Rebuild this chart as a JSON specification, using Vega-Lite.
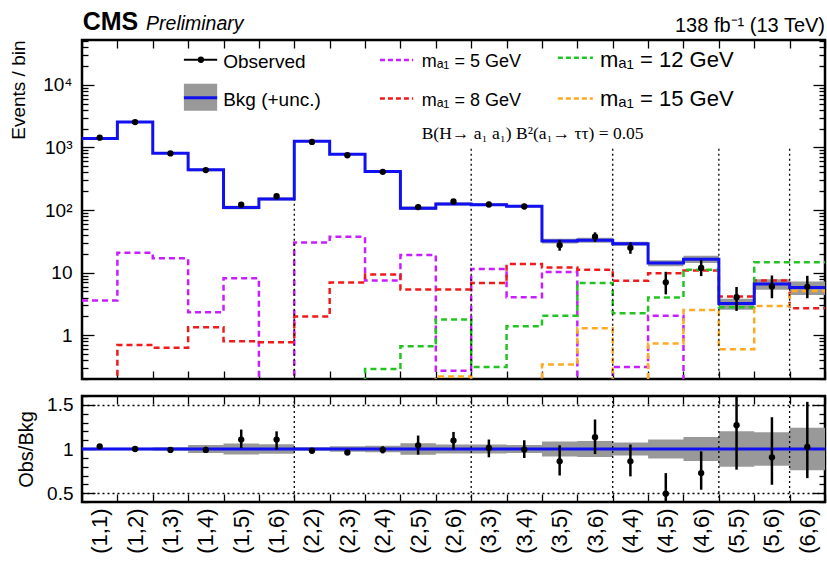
{
"$schema": "https://vega.github.io/schema/vega-lite/v6.json",
"background": "white",
"padding": {"left": 8, "top": 8, "right": 2, "bottom": 0},
"spacing": -6,
"config": {
  "font": "Liberation Sans",
  "view": {"stroke": "black", "strokeWidth": 2.5},
  "axis": {"domain": false, "grid": false, "tickColor": "black", "tickWidth": 1.3, "labelColor": "black", "titleColor": "black", "labelFontSize": 19, "titleFontSize": 19, "titleFontWeight": "normal", "labelOverlap": false, "labelFlush": false, "labelBound": false},
  "text": {"color": "black"}
},
"datasets": {
  "bins": [
    {"bin":"(1,1)","lo":0,"hi":1,"bkg":1390,"bkgLo":1369,"bkgHi":1411,"obs":1432,"obsLo":1397,"obsHi":1467,"s5":3.6,"s8":0.01,"s12":0.01,"s15":0.01,"ratio":1.03,"rLo":1.005,"rHi":1.055,"uLo":0.985,"uHi":1.015},
    {"bin":"(1,2)","lo":1,"hi":2,"bkg":2540,"bkgLo":2502,"bkgHi":2578,"obs":2540,"obsLo":2490,"obsHi":2590,"s5":20.7,"s8":0.70,"s12":0.01,"s15":0.01,"ratio":1.0,"rLo":0.985,"rHi":1.015,"uLo":0.985,"uHi":1.015},
    {"bin":"(1,3)","lo":2,"hi":3,"bkg":810,"bkgLo":794,"bkgHi":826,"obs":802,"obsLo":782,"obsHi":822,"s5":16.9,"s8":0.63,"s12":0.01,"s15":0.01,"ratio":0.99,"rLo":0.965,"rHi":1.015,"uLo":0.98,"uHi":1.02},
    {"bin":"(1,4)","lo":3,"hi":4,"bkg":438,"bkgLo":418,"bkgHi":458,"obs":434,"obsLo":418,"obsHi":451,"s5":2.33,"s8":1.34,"s12":0.01,"s15":0.01,"ratio":0.99,"rLo":0.955,"rHi":1.025,"uLo":0.955,"uHi":1.045},
    {"bin":"(1,5)","lo":4,"hi":5,"bkg":110,"bkgLo":103.2,"bkgHi":116.8,"obs":121.8,"obsLo":110,"obsHi":134,"s5":8.1,"s8":0.80,"s12":0.01,"s15":0.01,"ratio":1.107,"rLo":1.01,"rHi":1.22,"uLo":0.938,"uHi":1.062},
    {"bin":"(1,6)","lo":5,"hi":6,"bkg":150,"bkgLo":142,"bkgHi":158,"obs":166,"obsLo":149,"obsHi":179,"s5":0.01,"s8":0.77,"s12":0.01,"s15":0.01,"ratio":1.107,"rLo":0.993,"rHi":1.2,"uLo":0.947,"uHi":1.053},
    {"bin":"(2,2)","lo":6,"hi":7,"bkg":1250,"bkgLo":1225,"bkgHi":1275,"obs":1225,"obsLo":1200,"obsHi":1250,"s5":30.4,"s8":1.99,"s12":0.01,"s15":0.01,"ratio":0.98,"rLo":0.96,"rHi":1.0,"uLo":0.98,"uHi":1.02},
    {"bin":"(2,3)","lo":7,"hi":8,"bkg":780,"bkgLo":757,"bkgHi":803,"obs":749,"obsLo":731,"obsHi":767,"s5":37.4,"s8":6.97,"s12":0.01,"s15":0.01,"ratio":0.96,"rLo":0.94,"rHi":0.985,"uLo":0.97,"uHi":1.03},
    {"bin":"(2,4)","lo":8,"hi":9,"bkg":412,"bkgLo":396,"bkgHi":428,"obs":408,"obsLo":391,"obsHi":424,"s5":7.5,"s8":9.35,"s12":0.29,"s15":0.01,"ratio":0.99,"rLo":0.95,"rHi":1.03,"uLo":0.962,"uHi":1.038},
    {"bin":"(2,5)","lo":9,"hi":10,"bkg":107,"bkgLo":99.9,"bkgHi":114.1,"obs":111.5,"obsLo":100,"obsHi":123,"s5":19.1,"s8":5.4,"s12":0.67,"s15":0.01,"ratio":1.042,"rLo":0.936,"rHi":1.152,"uLo":0.934,"uHi":1.066},
    {"bin":"(2,6)","lo":10,"hi":11,"bkg":125,"bkgLo":118.6,"bkgHi":131.4,"obs":137,"obsLo":124,"obsHi":149,"s5":0.27,"s8":5.4,"s12":1.78,"s15":0.22,"ratio":1.095,"rLo":0.993,"rHi":1.193,"uLo":0.949,"uHi":1.051},
    {"bin":"(3,3)","lo":11,"hi":12,"bkg":122,"bkgLo":115.9,"bkgHi":128.1,"obs":123,"obsLo":110.5,"obsHi":135,"s5":11.4,"s8":6.8,"s12":0.31,"s15":0.01,"ratio":1.011,"rLo":0.906,"rHi":1.107,"uLo":0.95,"uHi":1.05},
    {"bin":"(3,4)","lo":12,"hi":13,"bkg":115,"bkgLo":109.8,"bkgHi":120.2,"obs":114,"obsLo":103,"obsHi":126,"s5":4.06,"s8":13.7,"s12":1.39,"s15":0.01,"ratio":0.993,"rLo":0.898,"rHi":1.099,"uLo":0.955,"uHi":1.045},
    {"bin":"(3,5)","lo":13,"hi":14,"bkg":32,"bkgLo":29.3,"bkgHi":34.7,"obs":27.5,"obsLo":22.4,"obsHi":33.4,"s5":10.2,"s8":12.1,"s12":2.04,"s15":0.34,"ratio":0.86,"rLo":0.70,"rHi":1.042,"uLo":0.915,"uHi":1.085},
    {"bin":"(3,6)","lo":14,"hi":15,"bkg":33,"bkgLo":30.0,"bkgHi":36.0,"obs":37.4,"obsLo":31,"obsHi":44,"s5":0.01,"s8":11.1,"s12":6.8,"s15":1.29,"ratio":1.133,"rLo":0.943,"rHi":1.334,"uLo":0.91,"uHi":1.09},
    {"bin":"(4,4)","lo":15,"hi":16,"bkg":29,"bkgLo":26.9,"bkgHi":31.1,"obs":24.9,"obsLo":20,"obsHi":30.5,"s5":0.31,"s8":7.4,"s12":2.25,"s15":0.01,"ratio":0.86,"rLo":0.69,"rHi":1.05,"uLo":0.926,"uHi":1.074},
    {"bin":"(4,5)","lo":16,"hi":17,"bkg":14.2,"bkgLo":12.7,"bkgHi":15.7,"obs":7.0,"obsLo":4.5,"obsHi":10.3,"s5":2.04,"s8":9.8,"s12":4.0,"s15":0.74,"ratio":0.493,"rLo":0.25,"rHi":0.727,"uLo":0.892,"uHi":1.108},
    {"bin":"(4,6)","lo":17,"hi":18,"bkg":16.4,"bkgLo":14.2,"bkgHi":18.6,"obs":11.9,"obsLo":8.8,"obsHi":16,"s5":0.01,"s8":10.8,"s12":11.1,"s15":2.54,"ratio":0.727,"rLo":0.539,"rHi":0.974,"uLo":0.864,"uHi":1.136},
    {"bin":"(5,5)","lo":18,"hi":19,"bkg":3.2,"bkgLo":2.56,"bkgHi":3.84,"obs":4.06,"obsLo":2.45,"obsHi":5.9,"s5":0.01,"s8":4.16,"s12":2.8,"s15":0.60,"ratio":1.27,"rLo":0.766,"rHi":1.85,"uLo":0.8,"uHi":1.2},
    {"bin":"(5,6)","lo":19,"hi":20,"bkg":6.6,"bkgLo":5.35,"bkgHi":7.85,"obs":6.0,"obsLo":3.9,"obsHi":9.0,"s5":0.01,"s8":7.5,"s12":14.6,"s15":2.94,"ratio":0.906,"rLo":0.595,"rHi":1.36,"uLo":0.81,"uHi":1.19},
    {"bin":"(6,6)","lo":20,"hi":21,"bkg":5.8,"bkgLo":4.41,"bkgHi":7.19,"obs":5.93,"obsLo":3.9,"obsHi":8.9,"s5":0.01,"s8":2.7,"s12":14.6,"s15":5.1,"ratio":1.023,"rLo":0.67,"rHi":1.534,"uLo":0.76,"uHi":1.24}
  ],
  "seps": [{"edge":6},{"edge":11},{"edge":15},{"edge":18},{"edge":20}]
},
"vconcat": [
{
  "width": 743, "height": 339,
  "data": {"name": "bins"},
  "resolve": {"axis": {"x": "independent", "y": "independent"}},
  "layer": [
    {
      "transform": [{"fold": ["lo", "hi"], "as": ["edge", "xe"]}],
      "mark": {"type": "area", "color": "#999999", "clip": true},
      "encoding": {
        "x": {"field": "xe", "type": "quantitative", "scale": {"domain": [0, 21], "nice": false, "zero": false},
              "axis": {"orient": "bottom", "values": [0,1,2,3,4,5,6,7,8,9,10,11,12,13,14,15,16,17,18,19,20,21], "labels": false, "tickSize": -8, "title": null, "minExtent": 0, "maxExtent": 0}},
        "y": {"field": "bkgLo", "type": "quantitative", "scale": {"type": "log", "domain": [0.2, 52000], "nice": false},
              "axis": {"orient": "left", "values": [0.2,0.3,0.4,0.5,0.6,0.7,0.8,0.9,1,2,3,4,5,6,7,8,9,10,20,30,40,50,60,70,80,90,100,200,300,400,500,600,700,800,900,1000,2000,3000,4000,5000,6000,7000,8000,9000,10000,20000,30000,40000,50000],
                       "labelExpr": "datum.value == 1 ? '1' : datum.value == 10 ? '10' : datum.value == 100 ? '10²' : datum.value == 1000 ? '10³' : datum.value == 10000 ? '10⁴' : ''",
                       "tickSize": {"condition": {"test": "datum.value == 1 || datum.value == 10 || datum.value == 100 || datum.value == 1000 || datum.value == 10000", "value": -12}, "value": -6},
                       "labelPadding": 22, "title": "Events / bin", "titleAnchor": "end", "titlePadding": 14}},
        "y2": {"field": "bkgHi"},
        "order": [{"field": "xe", "type": "quantitative"}, {"field": "edge", "type": "nominal"}]
      }
    },
    {
      "transform": [{"fold": ["s5", "s8", "s12", "s15"], "as": ["sig", "val"]}, {"fold": ["lo", "hi"], "as": ["edge", "xe"]}],
      "mark": {"type": "line", "strokeDash": [6, 4], "strokeWidth": 2.5, "clip": true},
      "encoding": {
        "x": {"field": "xe", "type": "quantitative", "scale": {"domain": [0, 21]}, "axis": null},
        "y": {"field": "val", "type": "quantitative", "scale": {"type": "log", "domain": [0.2, 52000]}, "axis": null},
        "color": {"field": "sig", "type": "nominal", "scale": {"domain": ["s5", "s8", "s12", "s15"], "range": ["#c81eff", "#f01a1a", "#22c322", "#ffaa22"]}, "legend": null},
        "order": [{"field": "xe", "type": "quantitative"}, {"field": "edge", "type": "nominal"}]
      }
    },
    {
      "data": {"name": "seps"},
      "mark": {"type": "rule", "color": "black", "strokeDash": [2, 3], "strokeWidth": 1.3},
      "encoding": {
        "x": {"field": "edge", "type": "quantitative", "axis": null},
        "y": {"datum": 950, "type": "quantitative", "axis": null},
        "y2": {"datum": 0.2}
      }
    },
    {
      "transform": [{"fold": ["lo", "hi"], "as": ["edge", "xe"]}],
      "mark": {"type": "line", "color": "#1010f0", "strokeWidth": 3, "clip": true},
      "encoding": {
        "x": {"field": "xe", "type": "quantitative", "axis": null},
        "y": {"field": "bkg", "type": "quantitative", "axis": null},
        "order": [{"field": "xe", "type": "quantitative"}, {"field": "edge", "type": "nominal"}]
      }
    },
    {
      "mark": {"type": "rule", "color": "black", "strokeWidth": 2.5},
      "encoding": {
        "x": {"field": "lo", "bin": "binned", "type": "quantitative", "axis": null},
        "x2": {"field": "hi"},
        "y": {"field": "obsLo", "type": "quantitative", "axis": null},
        "y2": {"field": "obsHi"}
      }
    },
    {
      "mark": {"type": "point", "filled": true, "color": "black", "size": 40, "opacity": 1},
      "encoding": {
        "x": {"field": "lo", "bin": "binned", "type": "quantitative", "axis": null},
        "x2": {"field": "hi"},
        "y": {"field": "obs", "type": "quantitative", "axis": null}
      }
    },
    {"data": {"values": [{}]}, "mark": {"type": "rect", "color": "#999999"},
     "encoding": {"x": {"datum": 2.88, "type": "quantitative", "axis": null}, "x2": {"datum": 3.82}, "y": {"datum": 10370, "type": "quantitative", "axis": null}, "y2": {"datum": 3837}}},
    {"data": {"values": [{}]}, "mark": {"type": "rule", "color": "#1010f0", "strokeWidth": 3},
     "encoding": {"x": {"datum": 2.88, "type": "quantitative", "axis": null}, "x2": {"datum": 3.82}, "y": {"datum": 6194, "type": "quantitative", "axis": null}}},
    {"data": {"values": [{}]}, "mark": {"type": "rule", "color": "black", "strokeWidth": 2},
     "encoding": {"x": {"datum": 2.88, "type": "quantitative", "axis": null}, "x2": {"datum": 3.82}, "y": {"datum": 25120, "type": "quantitative", "axis": null}}},
    {"data": {"values": [{}]}, "mark": {"type": "point", "filled": true, "color": "black", "size": 40, "opacity": 1},
     "encoding": {"x": {"datum": 3.36, "type": "quantitative", "axis": null}, "y": {"datum": 25120, "type": "quantitative", "axis": null}}},
    {"data": {"values": [{}]}, "mark": {"type": "rule", "color": "#c81eff", "strokeWidth": 2.5, "strokeDash": [5, 3]},
     "encoding": {"x": {"datum": 8.42, "type": "quantitative", "axis": null}, "x2": {"datum": 9.36}, "y": {"datum": 24830, "type": "quantitative", "axis": null}}},
    {"data": {"values": [{}]}, "mark": {"type": "rule", "color": "#f01a1a", "strokeWidth": 2.5, "strokeDash": [5, 3]},
     "encoding": {"x": {"datum": 8.42, "type": "quantitative", "axis": null}, "x2": {"datum": 9.36}, "y": {"datum": 6040, "type": "quantitative", "axis": null}}},
    {"data": {"values": [{}]}, "mark": {"type": "rule", "color": "#22c322", "strokeWidth": 2.5, "strokeDash": [5, 3]},
     "encoding": {"x": {"datum": 13.45, "type": "quantitative", "axis": null}, "x2": {"datum": 14.44}, "y": {"datum": 27000, "type": "quantitative", "axis": null}}},
    {"data": {"values": [{}]}, "mark": {"type": "rule", "color": "#ffaa22", "strokeWidth": 2.5, "strokeDash": [5, 3]},
     "encoding": {"x": {"datum": 13.45, "type": "quantitative", "axis": null}, "x2": {"datum": 14.44}, "y": {"datum": 6040, "type": "quantitative", "axis": null}}},
    {"data": {"values": [{}]}, "mark": {"type": "text", "text": "Observed", "align": "left", "baseline": "alphabetic", "fontSize": 19},
     "encoding": {"x": {"datum": 3.99, "type": "quantitative", "axis": null}, "y": {"datum": 18900, "type": "quantitative", "axis": null}}},
    {"data": {"values": [{}]}, "mark": {"type": "text", "text": "Bkg (+unc.)", "align": "left", "baseline": "alphabetic", "fontSize": 19},
     "encoding": {"x": {"datum": 3.99, "type": "quantitative", "axis": null}, "y": {"datum": 4530, "type": "quantitative", "axis": null}}},
    {"data": {"values": [{}]}, "mark": {"type": "text", "text": "mₐ₁ = 5 GeV", "align": "left", "baseline": "alphabetic", "fontSize": 18},
     "encoding": {"x": {"datum": 9.6, "type": "quantitative", "axis": null}, "y": {"datum": 19000, "type": "quantitative", "axis": null}}},
    {"data": {"values": [{}]}, "mark": {"type": "text", "text": "mₐ₁ = 8 GeV", "align": "left", "baseline": "alphabetic", "fontSize": 18},
     "encoding": {"x": {"datum": 9.6, "type": "quantitative", "axis": null}, "y": {"datum": 4600, "type": "quantitative", "axis": null}}},
    {"data": {"values": [{}]}, "mark": {"type": "text", "text": "mₐ₁ = 12 GeV", "align": "left", "baseline": "alphabetic", "fontSize": 22},
     "encoding": {"x": {"datum": 14.64, "type": "quantitative", "axis": null}, "y": {"datum": 19000, "type": "quantitative", "axis": null}}},
    {"data": {"values": [{}]}, "mark": {"type": "text", "text": "mₐ₁ = 15 GeV", "align": "left", "baseline": "alphabetic", "fontSize": 22},
     "encoding": {"x": {"datum": 14.64, "type": "quantitative", "axis": null}, "y": {"datum": 4600, "type": "quantitative", "axis": null}}},
    {"data": {"values": [{}]}, "mark": {"type": "text", "text": "B(H→ a₁ a₁) B²(a₁→ ττ) = 0.05", "align": "left", "baseline": "alphabetic", "fontSize": 17.5, "font": "Liberation Serif"},
     "encoding": {"x": {"datum": 9.6, "type": "quantitative", "axis": null}, "y": {"datum": 1368, "type": "quantitative", "axis": null}}},
    {"data": {"values": [{}]}, "mark": {"type": "text", "text": "CMS", "align": "left", "baseline": "alphabetic", "fontSize": 25, "fontWeight": "bold"},
     "encoding": {"x": {"datum": 0.02, "type": "quantitative", "axis": null}, "y": {"datum": 75000, "type": "quantitative", "axis": null}}},
    {"data": {"values": [{}]}, "mark": {"type": "text", "text": "Preliminary", "align": "left", "baseline": "alphabetic", "fontSize": 19.5, "fontStyle": "italic"},
     "encoding": {"x": {"datum": 1.81, "type": "quantitative", "axis": null}, "y": {"datum": 75000, "type": "quantitative", "axis": null}}},
    {"data": {"values": [{}]}, "mark": {"type": "text", "text": "138 fb⁻¹ (13 TeV)", "align": "right", "baseline": "alphabetic", "fontSize": 20},
     "encoding": {"x": {"datum": 21, "type": "quantitative", "axis": null}, "y": {"datum": 70500, "type": "quantitative", "axis": null}}},
    {
      "mark": {"type": "point", "opacity": 0},
      "encoding": {
        "x": {"field": "lo", "type": "quantitative",
              "axis": {"orient": "top", "values": [0,1,2,3,4,5,6,7,8,9,10,11,12,13,14,15,16,17,18,19,20,21], "labels": false, "tickSize": -8, "title": null, "minExtent": 0, "maxExtent": 0}},
        "y": {"field": "bkg", "type": "quantitative",
              "axis": {"orient": "right", "values": [0.2,0.3,0.4,0.5,0.6,0.7,0.8,0.9,1,2,3,4,5,6,7,8,9,10,20,30,40,50,60,70,80,90,100,200,300,400,500,600,700,800,900,1000,2000,3000,4000,5000,6000,7000,8000,9000,10000,20000,30000,40000,50000],
                       "labels": false, "title": null, "minExtent": 0, "maxExtent": 0,
                       "tickSize": {"condition": {"test": "datum.value == 1 || datum.value == 10 || datum.value == 100 || datum.value == 1000 || datum.value == 10000", "value": -12}, "value": -6}}}
      }
    }
  ]
},
{
  "width": 743, "height": 106,
  "data": {"name": "bins"},
  "resolve": {"axis": {"x": "independent", "y": "independent"}},
  "layer": [
    {
      "transform": [{"fold": ["lo", "hi"], "as": ["edge", "xe"]}],
      "mark": {"type": "area", "color": "#999999", "clip": true},
      "encoding": {
        "x": {"field": "xe", "type": "quantitative", "scale": {"domain": [0, 21], "nice": false, "zero": false},
              "axis": {"orient": "bottom", "values": [0,0.5,1,1.5,2,2.5,3,3.5,4,4.5,5,5.5,6,6.5,7,7.5,8,8.5,9,9.5,10,10.5,11,11.5,12,12.5,13,13.5,14,14.5,15,15.5,16,16.5,17,17.5,18,18.5,19,19.5,20,20.5,21],
                       "labelExpr": "datum.value % 1 != 0 ? ['(1,1)','(1,2)','(1,3)','(1,4)','(1,5)','(1,6)','(2,2)','(2,3)','(2,4)','(2,5)','(2,6)','(3,3)','(3,4)','(3,5)','(3,6)','(4,4)','(4,5)','(4,6)','(5,5)','(5,6)','(6,6)'][floor(datum.value)] : ''",
                       "tickSize": {"condition": {"test": "datum.value % 1 != 0", "value": 0}, "value": -8},
                       "labelAngle": 270, "labelAlign": "right", "labelBaseline": "middle", "labelFontSize": 22, "labelPadding": 6, "title": null}},
        "y": {"field": "uLo", "type": "quantitative", "scale": {"domain": [0.4, 1.6], "nice": false, "zero": false},
              "axis": {"orient": "left", "values": [0.4,0.5,0.6,0.7,0.8,0.9,1,1.1,1.2,1.3,1.4,1.5,1.6],
                       "labelExpr": "datum.value == 1.5 ? '1.5' : datum.value == 1 ? '1' : datum.value == 0.5 ? '0.5' : ''",
                       "tickSize": {"condition": {"test": "datum.value == 0.5 || datum.value == 1 || datum.value == 1.5", "value": -13}, "value": -6},
                       "grid": true, "gridColor": "black", "gridDash": [2, 3], "gridWidth": 1.3,
                       "gridOpacity": {"condition": {"test": "datum.value == 0.5 || datum.value == 1.5", "value": 1}, "value": 0},
                       "labelPadding": 22, "title": "Obs/Bkg", "titleFontSize": 20, "titlePadding": 10}},
        "y2": {"field": "uHi"},
        "order": [{"field": "xe", "type": "quantitative"}, {"field": "edge", "type": "nominal"}]
      }
    },
    {
      "data": {"values": [{}]},
      "mark": {"type": "rule", "color": "#1010f0", "strokeWidth": 3},
      "encoding": {"y": {"datum": 1, "type": "quantitative", "axis": null}}
    },
    {
      "data": {"name": "seps"},
      "mark": {"type": "rule", "color": "black", "strokeDash": [2, 3], "strokeWidth": 1.3},
      "encoding": {"x": {"field": "edge", "type": "quantitative", "axis": null}}
    },
    {
      "mark": {"type": "rule", "color": "black", "strokeWidth": 2.5, "clip": true},
      "encoding": {
        "x": {"field": "lo", "bin": "binned", "type": "quantitative", "axis": null},
        "x2": {"field": "hi"},
        "y": {"field": "rLo", "type": "quantitative", "axis": null},
        "y2": {"field": "rHi"}
      }
    },
    {
      "mark": {"type": "point", "filled": true, "color": "black", "size": 40, "opacity": 1, "clip": true},
      "encoding": {
        "x": {"field": "lo", "bin": "binned", "type": "quantitative", "axis": null},
        "x2": {"field": "hi"},
        "y": {"field": "ratio", "type": "quantitative", "axis": null}
      }
    },
    {
      "mark": {"type": "point", "opacity": 0},
      "encoding": {
        "x": {"field": "lo", "type": "quantitative",
              "axis": {"orient": "top", "values": [0,1,2,3,4,5,6,7,8,9,10,11,12,13,14,15,16,17,18,19,20,21], "labels": false, "tickSize": -8, "title": null, "minExtent": 0, "maxExtent": 0}},
        "y": {"field": "ratio", "type": "quantitative",
              "axis": {"orient": "right", "values": [0.4,0.5,0.6,0.7,0.8,0.9,1,1.1,1.2,1.3,1.4,1.5,1.6], "labels": false, "title": null, "minExtent": 0, "maxExtent": 0,
                       "tickSize": {"condition": {"test": "datum.value == 0.5 || datum.value == 1 || datum.value == 1.5", "value": -13}, "value": -6}}}
      }
    }
  ]
}
]
}
